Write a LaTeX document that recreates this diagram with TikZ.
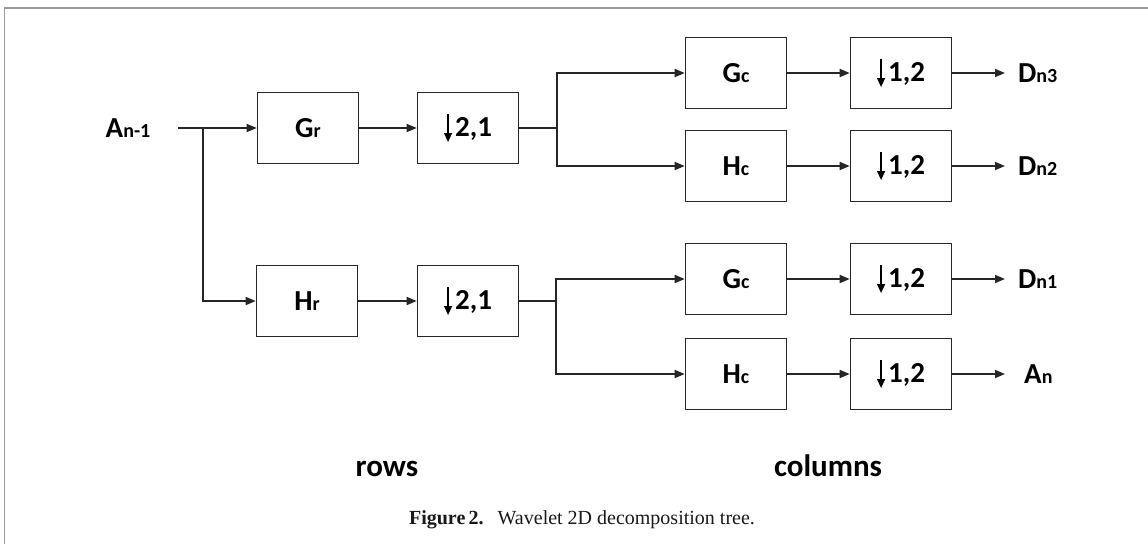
\documentclass[tikz,border=0pt]{standalone}
\usepackage{fontspec}
\setmainfont{Liberation Serif}
\newfontfamily\diagfont{Carlito}
\usetikzlibrary{arrows.meta}

% letter with a small index set next to it
\newcommand\subl[2]{#1{\fontsize{20}{20}\selectfont #2}}
% thin downsampling arrow with a filled head
\newcommand\dnarrow{\tikz[baseline=0pt]\draw[line width=1.3pt,-{Triangle[length=9pt,width=8pt]}] (0pt,22pt) -- (0pt,-6pt);\hspace{3pt}}
% downsampling label, set slightly left of the box centre
\newcommand\dnlabel[1]{\dnarrow#1\hspace{12pt}}

\begin{document}
\begin{tikzpicture}[x=1pt,y=-1pt,
  box/.style={draw=black!85, line width=1.6pt, minimum width=101pt, minimum height=71pt,
              inner sep=0pt, font=\diagfont\bfseries\fontsize{29}{29}\selectfont},
  lbl/.style={inner sep=0pt, font=\diagfont\bfseries\fontsize{29}{29}\selectfont},
  head/.style={inner sep=0pt, font=\diagfont\bfseries\fontsize{31}{31}\selectfont},
  link/.style={draw=black!85, line width=1.6pt},
  arr/.style={link, -{Triangle[length=10pt,width=8pt]}}]
\useasboundingbox (0,0) rectangle (1148,544);

% page frame
\draw[black!40, line width=1.3pt] (1148,8) -- (4.5,8) -- (4.5,544);

% row filters and downsamplers
\node[box] (Gr) at (308,128) {\subl{G}{r}};
\node[box] (Hr) at (307,301) {\subl{H}{r}};
\node[box] (R1) at (468,128) {\dnlabel{2,1}};
\node[box] (R2) at (468,301) {\dnlabel{2,1}};

% column filters and downsamplers
\node[box] (G1) at (736,73)  {\subl{G}{c}};
\node[box] (H1) at (736,166) {\subl{H}{c}};
\node[box] (G2) at (736,279) {\subl{G}{c}};
\node[box] (H2) at (736,374) {\subl{H}{c}};
\node[box] (C1) at (901,73)  {\dnlabel{1,2}};
\node[box] (C2) at (901,166) {\dnlabel{1,2}};
\node[box] (C3) at (901,279) {\dnlabel{1,2}};
\node[box] (C4) at (901,374) {\dnlabel{1,2}};

% input and outputs
\node[lbl, anchor=base] (A)  at (128,137) {\subl{A}{n-1}};
\node[lbl, anchor=base west] (D3) at (1018,82)  {\subl{D}{n3}};
\node[lbl, anchor=base west] (D2) at (1018,175) {\subl{D}{n2}};
\node[lbl, anchor=base west] (D1) at (1018,288) {\subl{D}{n1}};
\node[lbl, anchor=base west] (An) at (1024,383) {\subl{A}{n}};

% stage headings and caption
\node[head, anchor=base] (rows) at (387,476) {rows};
\node[head, anchor=base] (cols) at (828,476) {columns};
\node[inner sep=0pt, anchor=base, text=black!90, font=\fontsize{20}{24}\selectfont] (cap) at (582,524)
  {\textbf{Figure\,2.}\hspace{0.7em}Wavelet 2D decomposition tree.};

% branching points
\coordinate (J0) at (203,128);
\coordinate (J1) at (557,128);
\coordinate (J2) at (556,301);

% rows stage
\draw[link, shorten <=28pt] (A.east |- J0) -- (J0);
\draw[arr] (J0) -- (Gr.west);
\draw[arr] (J0) |- (Hr.west);
\draw[arr] (Gr) -- (R1);
\draw[arr] (Hr) -- (R2);

% columns stage
\draw[link] (R1.east) -- (J1);
\draw[arr] (J1) |- (G1.west);
\draw[arr] (J1) |- (H1.west);
\draw[link] (R2.east) -- (J2);
\draw[arr] (J2) |- (G2.west);
\draw[arr] (J2) |- (H2.west);
\draw[arr] (G1) -- (C1);
\draw[arr] (H1) -- (C2);
\draw[arr] (G2) -- (C3);
\draw[arr] (H2) -- (C4);

% outputs
\draw[arr, shorten >=13pt] (C1.east) -- (C1.east -| D3.west);
\draw[arr, shorten >=13pt] (C2.east) -- (C2.east -| D2.west);
\draw[arr, shorten >=13pt] (C3.east) -- (C3.east -| D1.west);
\draw[arr, shorten >=19pt] (C4.east) -- (C4.east -| An.west);
\end{tikzpicture}
\end{document}
